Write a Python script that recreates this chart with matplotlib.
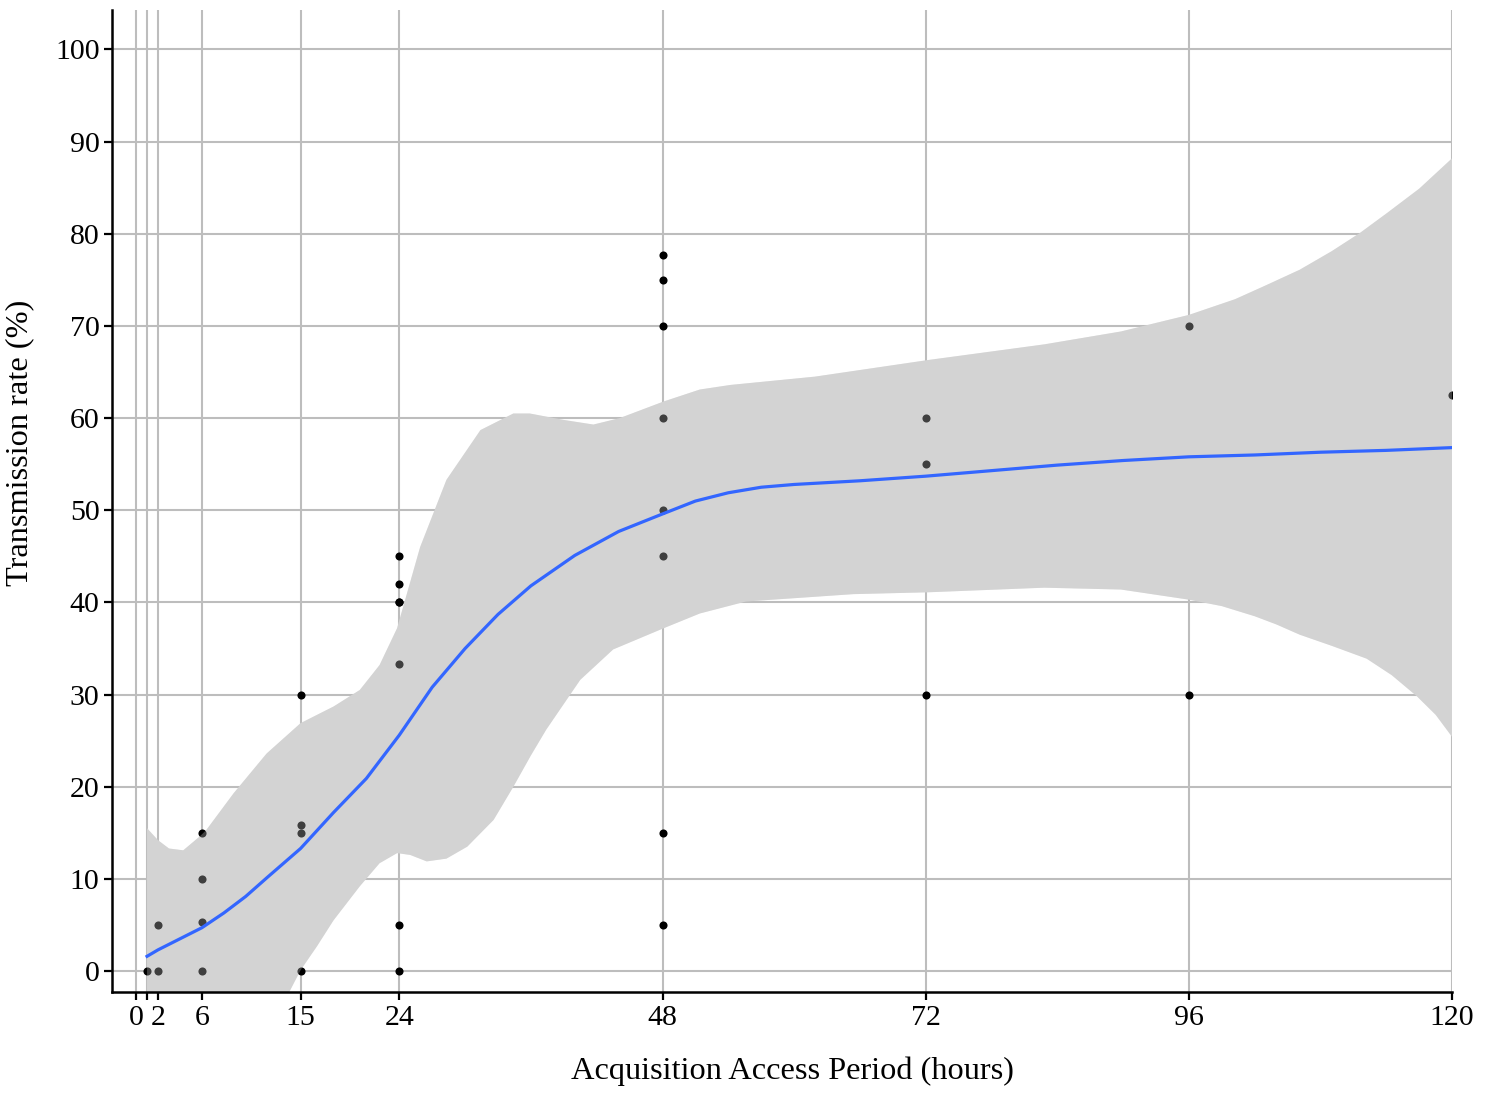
"""
Transmission rate vs acquisition access period, with a loess-style fit and band.
"""

import numpy as np
import matplotlib
import matplotlib.pyplot as plt

matplotlib.rcParams['font.family'] = ['Liberation Serif', 'DejaVu Serif']

# observed points
aap_hours = [1, 2, 2, 6, 6, 6, 6, 15, 15, 15, 15,
             24, 24, 24, 24, 24, 24, 24,
             48, 48, 48, 48, 48, 48, 48, 48,
             72, 72, 72, 96, 96, 120]
trans_rate = [0, 5, 0, 15, 10, 5.3, 0, 30, 15.8, 15, 0,
              45, 42, 40, 40, 33.3, 5, 0,
              77.7, 75, 70, 60, 50, 45, 15, 5,
              60, 55, 30, 70, 30, 62.5]

# fitted curve
fit_x = [1, 2, 4, 6, 8, 10, 12, 15, 18, 21, 24, 27, 30, 33, 36, 40, 44, 48,
         51, 54, 57, 60, 66, 72, 78, 84, 90, 96, 102, 108, 114, 120]
fit_y = [1.6, 2.3, 3.5, 4.7, 6.3, 8.1, 10.2, 13.3, 17.2, 20.9, 25.6, 30.8, 35.0,
         38.7, 41.8, 45.1, 47.7, 49.6, 51.0, 51.9, 52.5, 52.8, 53.2, 53.7, 54.3,
         54.9, 55.4, 55.8, 56.0, 56.3, 56.5, 56.8]

# confidence band
upper_x = [1, 2, 3, 4.3, 5.8, 6.4, 8.9, 11.9, 15, 18, 20.4, 22.2, 23.8, 25.9,
           28.3, 31.4, 34.4, 35.9, 39, 41.7, 44.1, 48.1, 51.4, 54.2, 61.9, 72.2,
           82.8, 89.8, 96, 100.2, 103, 106.1, 109, 111.6, 114, 117, 120]
upper_y = [15.5, 14.2, 13.3, 13.1, 14.6, 15.3, 19.3, 23.6, 26.9, 28.7, 30.5, 33.2,
           37.2, 46.0, 53.3, 58.7, 60.5, 60.5, 59.8, 59.3, 60.0, 61.8, 63.1, 63.6,
           64.5, 66.3, 68.0, 69.4, 71.2, 72.9, 74.4, 76.1, 78.1, 80.1, 82.2, 84.9, 88.2]
lower_x = [1, 4, 8, 12, 14, 15, 16.5, 18, 20.4, 22.2, 23.8, 25, 26.5, 28.3, 30.2,
           32.6, 34.4, 36, 37.4, 40.5, 43.5, 48.1, 51.4, 55.6, 65.4, 72.2, 82.8,
           89.8, 96, 99, 102, 104, 106.1, 109, 112.2, 114.5, 116.8, 118.5, 120]
lower_y = [-14, -8, -6, -4, -2.2, 0.1, 2.7, 5.5, 9.2, 11.7, 12.8, 12.6, 11.9, 12.2,
           13.5, 16.4, 20.0, 23.4, 26.2, 31.6, 34.9, 37.2, 38.8, 40.1, 40.9, 41.1,
           41.6, 41.4, 40.3, 39.6, 38.5, 37.6, 36.5, 35.3, 33.9, 32.1, 29.8, 27.8, 25.4]

x_breaks = [0, 1, 2, 6, 15, 24, 48, 72, 96, 120]
x_labels = ['0', '', '2', '6', '15', '24', '48', '72', '96', '120']
y_breaks = list(range(0, 101, 10))

fig = plt.figure(figsize=(14.94, 10.95), dpi=100)
ax = fig.add_axes([0.075, 0.094, 0.897, 0.897])

# grid drawn by hand so it sits under the band
for xb in x_breaks:
    ax.axvline(xb, color='#bdbdbd', lw=1.5, zorder=0)
for yb in y_breaks:
    ax.axhline(yb, color='#bdbdbd', lw=1.5, zorder=0)

band_x = upper_x + lower_x[::-1]
band_y = upper_y + lower_y[::-1]
ax.fill(band_x, band_y, color='#d3d3d3', lw=0, zorder=1)

ax.scatter(aap_hours, trans_rate, s=34, color='black', lw=0, zorder=2)

# translucent second pass greys the points sitting inside the band
ax.fill(band_x, band_y, color='#d3d3d3', alpha=0.3, lw=0, zorder=3)

ax.plot(fit_x, fit_y, color='#3366FF', lw=2.3, zorder=4)

ax.set_xlim(-2.19, 120)
ax.set_ylim(-2.28, 104.3)
ax.set_xticks(x_breaks)
ax.set_xticklabels(x_labels)
ax.set_yticks(y_breaks)
ax.tick_params(axis='both', direction='out', length=6, width=1.6,
               labelsize=21.5, color='black', pad=3)

for side in ['top', 'right']:
    ax.spines[side].set_visible(False)
for side in ['left', 'bottom']:
    ax.spines[side].set_linewidth(1.8)
    ax.spines[side].set_zorder(5)

ax.set_xlabel('Acquisition Access Period (hours)', fontsize=23.3, va='center')
ax.set_ylabel('Transmission rate (%)', fontsize=23.3, va='center')
ax.xaxis.set_label_coords(0.5075, -0.0804)
ax.yaxis.set_label_coords(-0.0687, 0.559)

plt.savefig('out.png', dpi=100)
